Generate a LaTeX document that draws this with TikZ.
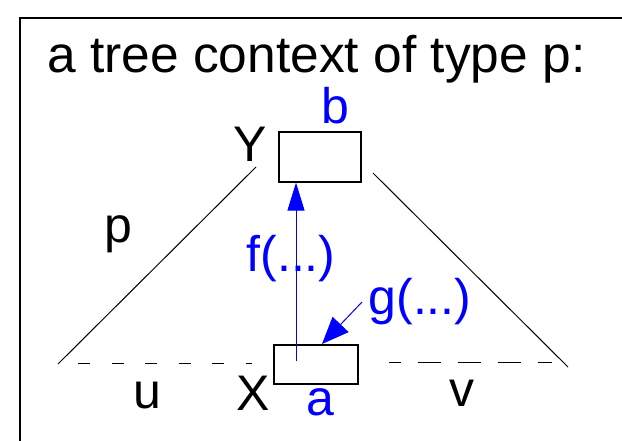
\documentclass[tikz,border=0pt]{standalone}
\usepackage{fontspec}
\setmainfont{Liberation Sans}
\usetikzlibrary{arrows.meta}
\begin{document}
\begin{tikzpicture}[x=1pt,y=-1pt,
  lbl/.style={anchor=base,inner sep=0pt,font=\fontsize{50}{60}\selectfont},
  blbl/.style={lbl,text=blue},
  treeline/.style={draw=black,line width=1pt},
  blarrow/.style={draw=blue,line width=1pt}
]
\useasboundingbox (0,0) rectangle (622,441);
% frame
\draw[line width=2pt] (20,441) -- (20,18) -- (622,18);
% title
\node[lbl,anchor=base west,font=\fontsize{51.5}{60}\selectfont] (title) at (47,73) {a tree context of type p:};
% boxes
\node[draw,line width=1.2pt,inner sep=0pt,minimum width=82pt,minimum height=50pt] (boxb) at (320,157) {};
\node[draw,line width=1.2pt,inner sep=0pt,minimum width=84pt,minimum height=39pt] (boxa) at (316,364.5) {};
% labels
\node[blbl] (lb) at (335,124) {b};
\node[lbl] (lY) at (250,162) {Y};
\node[lbl] (lp) at (118,243) {p};
\node[blbl] (lf) at (291,272) {f(...)};
\node[blbl] (lg) at (420,315) {g(...)};
\node[lbl] (lu) at (147,408) {u};
\node[lbl] (lX) at (253,410) {X};
\node[blbl] (la) at (320,415) {a};
\node[lbl] (lv) at (462,406) {v};
% tree outline
\coordinate (ltop) at (256,167);
\coordinate (lbot) at (58,364);
\coordinate (rtop) at (373,173);
\coordinate (rbot) at (568,367);
\draw[treeline] (ltop) -- (lbot);
\draw[treeline] (rtop) -- (rbot);
\coordinate (ldash1) at (78,363);
\coordinate (ldash2) at (252,363);
\coordinate (rdash1) at (389,362);
\coordinate (rdash2) at (552,362);
\draw[treeline,dash pattern=on 12pt off 21.5pt] (ldash1) -- (ldash2);
\draw[treeline,dash pattern=on 23pt off 17pt,dash phase=11pt] (rdash1) -- (rdash2);
% arrows
\coordinate (ftail) at (296,361);
\draw[blarrow,-{Triangle[length=28pt,width=17pt]}] (ftail) -- (ftail |- boxb.south);
\coordinate (gtail) at (362,302);
\coordinate (gtip) at (322,344);
\draw[blarrow,-{Triangle[length=27pt,width=22pt]}] (gtail) -- (gtip);
\end{tikzpicture}
\end{document}
